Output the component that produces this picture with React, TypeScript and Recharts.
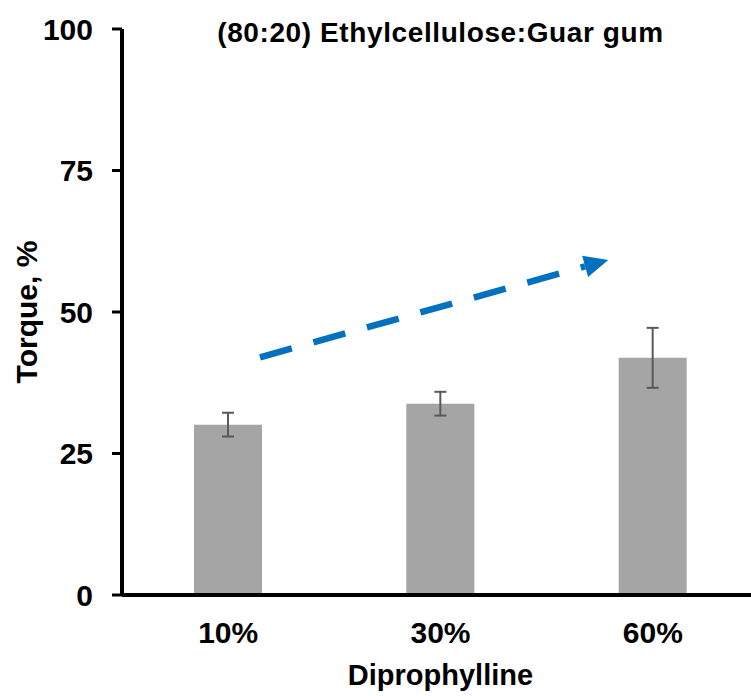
import React from 'react';
import { ComposedChart, Bar, XAxis, YAxis, ErrorBar, ReferenceLine, Label } from 'recharts';

const categories = ['10%', '30%', '60%'];
const torque = [30.1, 33.8, 41.9];
const torqueErr = [2.1, 2.1, 5.3];
const yTicks = [0, 25, 50, 75, 100];

// trend arrow end points, in (category index, torque) units
const trendX = [0.15, 1.79];
const trendY = [42, 59.2];

const FONT = '"Liberation Sans", Arial, sans-serif';

const data = categories.map((name, i) => ({ pos: i, name, torque: torque[i], err: torqueErr[i] }));

// dashed blue line ending in a solid triangle head
const TrendArrow = (props: any) => {
  const { x1, y1, x2, y2 } = props;
  const len = Math.hypot(x2 - x1, y2 - y1);
  const ux = (x2 - x1) / len;
  const uy = (y2 - y1) / len;
  const headLen = 24;
  const halfW = 11;
  const bx = x2 - ux * headLen;
  const by = y2 - uy * headLen;
  const pts = [
    [x2, y2],
    [bx - uy * halfW, by + ux * halfW],
    [bx + uy * halfW, by - ux * halfW],
  ]
    .map((p) => p.join(','))
    .join(' ');
  return (
    <g>
      <line x1={x1} y1={y1} x2={bx} y2={by} stroke="#0070C0" strokeWidth={6.5} strokeDasharray="33 22.5" />
      <polygon points={pts} fill="#0070C0" />
    </g>
  );
};

export default function App() {
  return (
    <div style={{ position: 'absolute', left: 0, top: 0, width: 751, height: 696, overflow: 'hidden', background: '#fff' }}>
      <ComposedChart
        width={770}
        height={696}
        data={data}
        margin={{ top: 29, right: 11, bottom: 0, left: 0 }}
        style={{ fontFamily: FONT }}
      >
        <XAxis
          dataKey="pos"
          type="number"
          domain={[-0.5, 2.5]}
          allowDataOverflow
          ticks={[0, 1, 2]}
          tickFormatter={(i: number) => categories[i]}
          axisLine={{ stroke: '#000', strokeWidth: 4 }}
          tickLine={false}
          tickSize={0}
          tickMargin={27}
          height={101}
          tick={{ fill: '#000', fontSize: 30, fontWeight: 700, fontFamily: FONT }}
        >
          <Label
            content={({ viewBox }: any) => (
              <text
                x={viewBox.x + viewBox.width / 2}
                y={685}
                textAnchor="middle"
                fontSize={29}
                fontWeight={700}
                fontFamily={FONT}
                fill="#000"
              >
                Diprophylline
              </text>
            )}
          />
        </XAxis>
        <YAxis
          domain={[0, 100]}
          ticks={yTicks}
          width={122}
          axisLine={{ stroke: '#000', strokeWidth: 4 }}
          tickLine={{ stroke: '#000', strokeWidth: 3 }}
          tickSize={10}
          tickMargin={19}
          tick={{ fill: '#000', fontSize: 30, fontWeight: 700, fontFamily: FONT }}
        >
          <Label
            content={({ viewBox }: any) => {
              const cy = viewBox.y + viewBox.height / 2;
              return (
                <text
                  x={37}
                  y={cy}
                  transform={`rotate(-90, 37, ${cy})`}
                  textAnchor="middle"
                  fontSize={30}
                  fontWeight={700}
                  fontFamily={FONT}
                  fill="#000"
                >
                  Torque, %
                </text>
              );
            }}
          />
        </YAxis>
        <Bar dataKey="torque" fill="#A5A5A5" barSize={68} isAnimationActive={false}>
          <ErrorBar dataKey="err" width={6} stroke="#595959" strokeWidth={2} isAnimationActive={false} />
        </Bar>
        <ReferenceLine
          segment={[
            { x: trendX[0], y: trendY[0] },
            { x: trendX[1], y: trendY[1] },
          ]}
          ifOverflow="visible"
          shape={TrendArrow}
        />
        <text
          x={440.5}
          y={42}
          textAnchor="middle"
          fontSize={28}
          fontWeight={700}
          fontFamily={FONT}
          letterSpacing={0.6}
          fill="#000"
        >
          (80:20) Ethylcellulose:Guar gum
        </text>
      </ComposedChart>
    </div>
  );
}
